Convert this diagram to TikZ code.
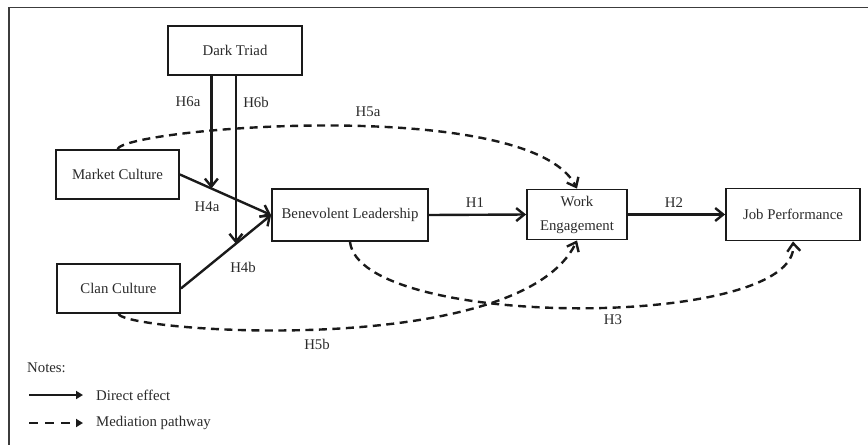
\documentclass[tikz,border=0pt]{standalone}
\usepackage{fontspec}
\setmainfont{Liberation Serif}
\usetikzlibrary{arrows.meta,calc}
\definecolor{ink}{HTML}{1A1A1A}
\definecolor{txt}{HTML}{2A2A2A}
\begin{document}
\begin{tikzpicture}[x=1pt,y=-1pt,
  every node/.style={text=txt,font=\fontsize{14.8}{24}\selectfont},
  box/.style={draw=ink,line width=1.8pt,inner sep=2pt,align=center},
  direct/.style={draw=ink,line width=2.4pt,-{Straight Barb[length=8pt,width=13pt]}},
  mediation/.style={draw=ink,line width=2.4pt,dash pattern=on 8pt off 5.5pt,-{Straight Barb[length=8pt,width=13pt]}},
  legdirect/.style={draw=ink,line width=2.4pt,-{Triangle[length=7pt,width=8pt]}},
  lbl/.style={inner sep=1pt}]
\useasboundingbox (0,0) rectangle (868,445);
\draw[ink!85,line width=1.6pt] (868,7.5) -- (9,7.5) -- (9,445);

\node[box,minimum width=134pt,minimum height=49pt] (dt) at (235,50.5) {Dark Triad};
\node[box,minimum width=123pt,minimum height=49pt] (mc) at (117.5,174.5) {Market Culture};
\node[box,minimum width=123pt,minimum height=49pt] (cc) at (118.5,288.5) {Clan Culture};
\node[box,minimum width=156pt,minimum height=52pt] (bl) at (350,215) {Benevolent Leadership};
\node[box,minimum width=100pt,minimum height=50pt] (we) at (577,214.5) {Work\\Engagement};
\node[box,minimum width=134pt,minimum height=52pt] (jp) at (793,214.5) {Job Performance};

% direct effects
\draw[direct] (mc.east) -- (bl.west);
\draw[direct] (cc.east) -- (bl.west);
\coordinate (m1) at ($(mc.east)!0.345!(bl.west)$);
\coordinate (m2) at ($(cc.east)!0.61!(bl.west)$);
\draw[direct] (dt.south -| m1) -- (m1);
\draw[direct] (dt.south -| m2) -- (m2);
\draw[direct] (bl.east) -- (we.west);
\draw[direct] (we.east) -- (jp.west);

% mediation pathways
\draw[mediation] (mc.north) .. controls (125,128) and (530,95) .. (we.north);
\draw[mediation] (cc.south) .. controls (125,332) and (520,360) .. (we.south);
\draw[mediation] (bl.south) .. controls (360,330) and (800,330) .. (jp.south);

% labels
\node[lbl] (h6a) at (188,102) {H6a};
\node[lbl] (h6b) at (256,102) {H6b};
\node[lbl] (h5a) at (368,112) {H5a};
\node[lbl] (h4a) at (207,207) {H4a};
\node[lbl] (h4b) at (243,267) {H4b};
\node[lbl] (h1) at (475,203) {H1};
\node[lbl] (h2) at (674,203) {H2};
\node[lbl] (h5b) at (317,344) {H5b};
\node[lbl] (h3) at (613,320) {H3};

% legend
\node[lbl,anchor=west] (notes) at (26,368) {Notes:};
\coordinate (d1) at (29,395);
\coordinate (d2) at (83,395);
\coordinate (e1) at (29,423);
\coordinate (e2) at (83,423);
\draw[legdirect] (d1) -- (d2);
\draw[legdirect,dash pattern=on 9pt off 7pt] (e1) -- (e2);
\node[lbl,anchor=west] (de) at (95,395) {Direct effect};
\node[lbl,anchor=west] (mp) at (95,423) {Mediation pathway};
\end{tikzpicture}
\end{document}
